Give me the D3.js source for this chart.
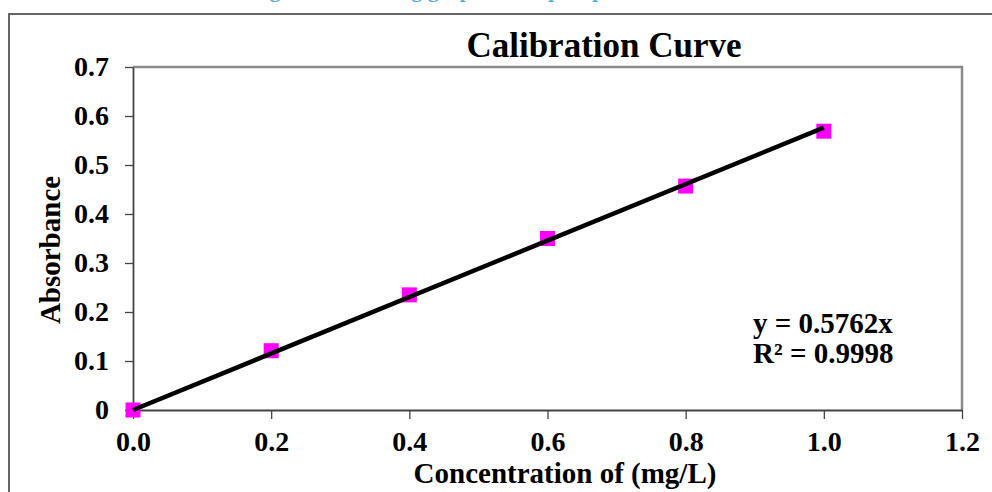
<!DOCTYPE html>
<html>
<head>
<meta charset="utf-8">
<script src="https://cdn.jsdelivr.net/npm/d3@7"></script>
<style>
  body { margin: 0; background: #fff; }
  text { font-family: 'Liberation Serif', 'Times New Roman', serif; font-weight: bold; }
</style>
</head>
<body>
<script>
var conc = [0.0, 0.2, 0.4, 0.6, 0.8, 1.0];
var absorb = [0.0, 0.121, 0.235, 0.350, 0.457, 0.569];
var xTicks = [0, 0.2, 0.4, 0.6, 0.8, 1.0, 1.2];
var yTicks = [0, 0.1, 0.2, 0.3, 0.4, 0.5, 0.6, 0.7];
var slope = 0.5762;
var eqLines = ['y = 0.5762x', 'R\u00b2 = 0.9998'];

var W = 992, H = 492;
var margin = { top: 67, right: 30, bottom: 82, left: 133 },
    width = W - margin.left - margin.right,
    height = H - margin.top - margin.bottom;

var svg = d3.select('body').append('svg')
  .attr('width', W)
  .attr('height', H);

// caption above the chart frame, mostly cut off by the top edge
svg.append('text')
  .attr('x', 250)
  .attr('y', -3)
  .attr('fill', '#5aaeea')
  .style('font-size', '22px')
  .text('Figure 1. Working graph of the phosphate');

// outer frame (only top and left visible)
svg.append('path')
  .attr('d', 'M9,' + (H + 5) + ' L9,14 L' + (W + 5) + ',14')
  .attr('fill', 'none')
  .attr('stroke', '#666')
  .attr('stroke-width', 2);

var g = svg.append('g')
  .attr('transform', 'translate(' + margin.left + ',' + margin.top + ')');

var x = d3.scaleLinear().domain([0, 1.2]).range([0, width]);
var y = d3.scaleLinear().domain([0, 0.7]).range([height, 0]);

// plot area border top/right
g.append('path')
  .attr('d', 'M0,0 L' + width + ',0 L' + width + ',' + height)
  .attr('fill', 'none')
  .attr('stroke', '#8a8a8a')
  .attr('stroke-width', 2.5);

var xAxis = d3.axisBottom(x)
  .tickValues(xTicks)
  .tickFormat(d3.format('.1f'))
  .tickSizeInner(9)
  .tickSizeOuter(0)
  .tickPadding(12);

var yAxis = d3.axisLeft(y)
  .tickValues(yTicks)
  .tickFormat(function(d) { return d === 0 ? '0' : d3.format('.1f')(d); })
  .tickSizeInner(8)
  .tickSizeOuter(0)
  .tickPadding(16);

var gx = g.append('g')
  .attr('transform', 'translate(0,' + height + ')')
  .call(xAxis);

var gy = g.append('g')
  .call(yAxis);

[gx, gy].forEach(function(a) {
  a.select('.domain').attr('stroke', '#444').attr('stroke-width', 1.8);
  a.selectAll('.tick line').attr('stroke', '#444').attr('stroke-width', 1.3);
  a.selectAll('.tick text')
    .attr('fill', '#000')
    .style('font-size', '28px')
    .style('font-family', "'Liberation Serif', 'Times New Roman', serif")
    .style('font-weight', 'bold');
});

// data points
var sz = 15;
g.selectAll('rect.pt')
  .data(conc)
  .enter()
  .append('rect')
  .attr('class', 'pt')
  .attr('x', function(d) { return x(d) - sz / 2; })
  .attr('y', function(d, i) { return y(absorb[i]) - sz / 2; })
  .attr('width', sz)
  .attr('height', sz)
  .attr('fill', '#ff00ff');

// fitted trend line drawn over the points
g.append('line')
  .attr('x1', x(0)).attr('y1', y(0))
  .attr('x2', x(1.0)).attr('y2', y(slope * 1.0))
  .attr('stroke', '#000')
  .attr('stroke-width', 4.5);

// title
svg.append('text')
  .attr('x', 604)
  .attr('y', 57)
  .attr('text-anchor', 'middle')
  .style('font-size', '35px')
  .text('Calibration Curve');

// axis titles
svg.append('text')
  .attr('x', 565)
  .attr('y', 483)
  .attr('text-anchor', 'middle')
  .style('font-size', '29px')
  .text('Concentration of (mg/L)');

svg.append('text')
  .attr('transform', 'translate(60,250) rotate(-90)')
  .attr('text-anchor', 'middle')
  .style('font-size', '29px')
  .text('Absorbance');

// regression equation
svg.selectAll('text.eq')
  .data(eqLines)
  .enter()
  .append('text')
  .attr('class', 'eq')
  .attr('x', 753)
  .attr('y', function(d, i) { return 333 + i * 30; })
  .style('font-size', '29px')
  .text(function(d) { return d; });
</script>
</body>
</html>
